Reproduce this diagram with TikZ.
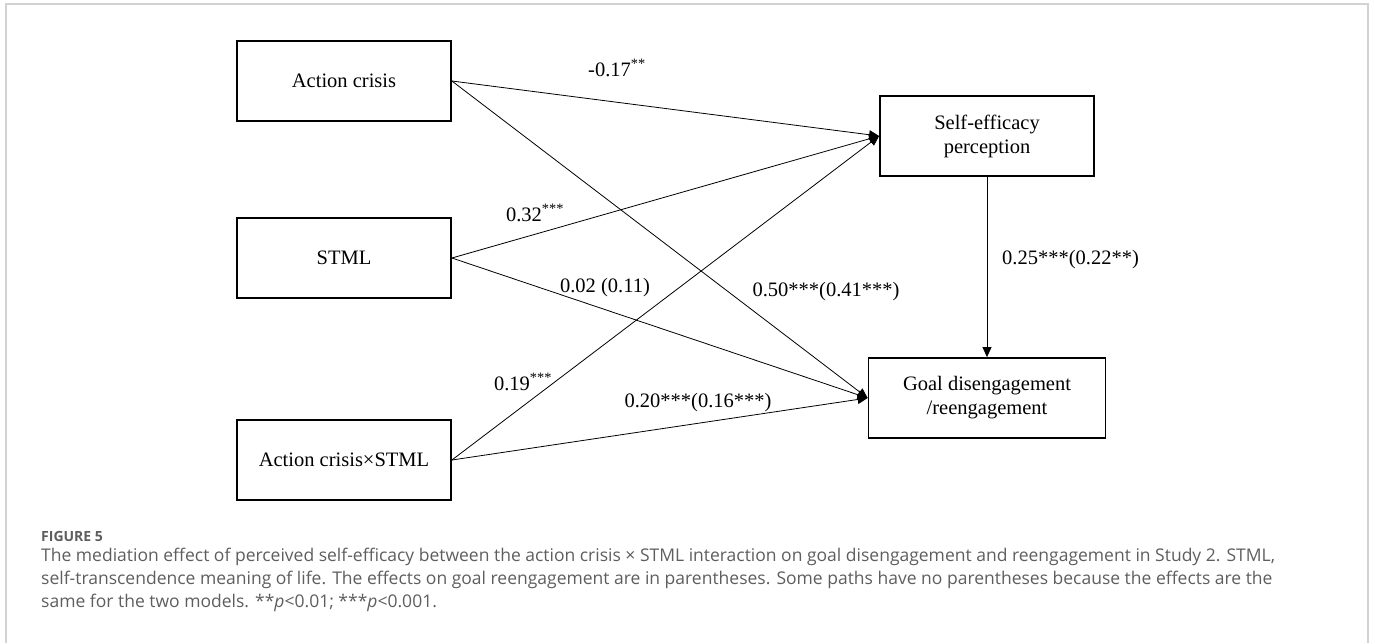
\documentclass[tikz,border=0pt]{standalone}
\usepackage{fontspec}
\setmainfont{Liberation Serif}
\newfontfamily\capfont{Open Sans}
\usetikzlibrary{arrows.meta}
\definecolor{capgray}{HTML}{5E5E5E}

\begin{document}
\begin{tikzpicture}[x=1pt,y=-1pt,
    var/.style={draw,line width=1.8pt,minimum width=214pt,minimum height=80pt,
      align=center,inner sep=0pt,font=\fontsize{20.5}{24}\selectfont},
    path/.style={-{Triangle[length=10pt,width=9pt]},line width=0.8pt},
    coef/.style={inner sep=0pt,font=\fontsize{20.5}{24}\selectfont}]
  \useasboundingbox (0,0) rectangle (1375,643);
  \draw[gray!35,line width=1.5pt] (6,643) -- (6,4) -- (1368,4) -- (1368,643);

  % predictors
  \node[var](crisis) at (344,81){Action crisis};
  \node[var](stml) at (344,258){STML};
  \node[var](inter) at (344,460){Action crisis×STML};
  % mediator and outcome
  \node[var](eff) at (987,136){Self-efficacy\\perception};
  \node[var,minimum width=237pt](goal) at (987,398){Goal disengagement\\/reengagement};

  \draw[path] (crisis.east) -- (eff.west);
  \draw[path] (crisis.east) -- (goal.west);
  \draw[path] (stml.east) -- (eff.west);
  \draw[path] (stml.east) -- (goal.west);
  \draw[path] (inter.east) -- (eff.west);
  \draw[path] (inter.east) -- (goal.west);
  \draw[path] (eff.south) -- (goal.north);

  \node[coef](c1) at (617,68){-0.17\textsuperscript{**}};
  \node[coef](c2) at (535,213){0.32\textsuperscript{***}};
  \node[coef](c3) at (605,288){0.02 (0.11)};
  \node[coef](c4) at (523,382){0.19\textsuperscript{***}};
  \node[coef](c5) at (698,403){0.20***(0.16***)};
  \node[coef](c6) at (826,292){0.50***(0.41***)};
  \node[coef,anchor=west](c7) at (1002,260){0.25***(0.22**)};

  % caption
  \node[anchor=base west,inner sep=0pt,text=capgray,
    font=\capfont\fontsize{14}{16}\selectfont\bfseries](figlabel) at (41,541){FIGURE 5};
  \node[anchor=north west,inner sep=0pt,text=capgray,align=left,
    font=\capfont\fontsize{17.5}{23}\selectfont](cap) at (41,545){\strut The mediation effect of perceived self-efficacy between the action crisis × STML interaction on goal disengagement and reengagement in Study 2. STML,\\
    self-transcendence meaning of life. The effects on goal reengagement are in parentheses. Some paths have no parentheses because the effects are the\\
    same for the two models. **\textit{p}<0.01; ***\textit{p}<0.001.};
\end{tikzpicture}
\end{document}
